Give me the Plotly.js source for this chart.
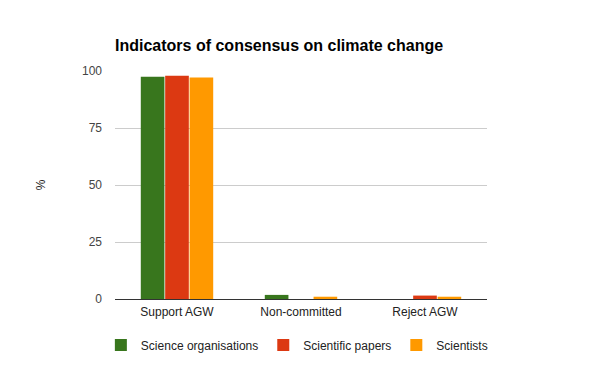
<!DOCTYPE html>
<html><head><meta charset="utf-8">
<script src="https://cdn.plot.ly/plotly-3.0.1.min.js"></script>
<style>body{margin:0;background:#fff}#chart{width:600px;height:371px}</style>
</head><body><div id="chart"></div>
<script>
const categories = ["Support AGW", "Non-committed", "Reject AGW"];
const seriesNames = ["Science organisations", "Scientific papers", "Scientists"];
const scienceOrganisations = [97.5, 1.8, 0];
const scientificPapers = [97.9, 0, 1.5];
const scientists = [97.1, 1.0, 1.0];
const yTicks = [0, 25, 50, 75, 100];
const colors = ["#38761d", "#dc3912", "#ff9900"];
const values = [scienceOrganisations, scientificPapers, scientists];

const traces = values.map((v, i) => ({
  type: "bar", x: categories, y: v, name: seriesNames[i],
  marker: {color: colors[i]}, hoverinfo: "none"
}));

const layout = {
  width: 600, height: 371,
  margin: {l: 115, r: 113, t: 71, b: 72},
  paper_bgcolor: "#fff", plot_bgcolor: "#fff",
  font: {family: "Liberation Sans, Arial, sans-serif", size: 12, color: "#222"},
  title: {text: "<b>Indicators of consensus on climate change</b>", x: 115/600, xanchor: "left", y: 1 - 45/371, yanchor: "middle",
    font: {size: 16, color: "#000", family: "Liberation Sans, Arial, sans-serif"}},
  barmode: "group", bargap: 0.41, bargroupgap: 0.03,
  xaxis: {type: "category", showgrid: false, ticks: "", tickfont: {size: 12, color: "#222"}, showline: false, ticklabelstandoff: 4, automargin: false},
  yaxis: {range: [0, 100], tickvals: yTicks, ticktext: yTicks.map(String), showgrid: true, gridcolor: "#cccccc",
    zeroline: true, zerolinecolor: "#333", zerolinewidth: 1, tickfont: {size: 12, color: "#444"}, ticks: "", ticklabelstandoff: 12, automargin: false,
    title: {text: "%", standoff: 33, font: {size: 12, color: "#222"}}},
  showlegend: true,
  legend: {orientation: "h", x: -0.038, xanchor: "left", y: -0.202, yanchor: "middle",
    font: {size: 12, color: "#222"}, itemwidth: 30, tracegroupgap: 0}
};
Plotly.newPlot("chart", traces, layout, {displayModeBar: false, staticPlot: true});
</script></body></html>
